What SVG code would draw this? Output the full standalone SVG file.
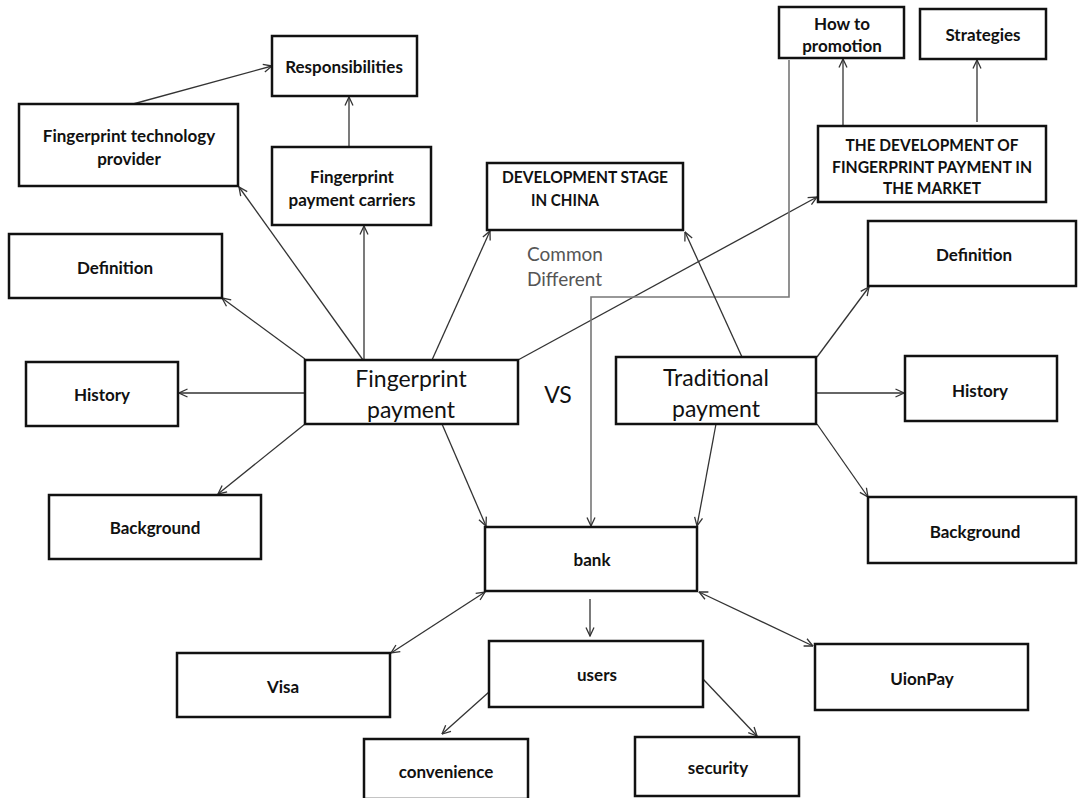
<svg xmlns="http://www.w3.org/2000/svg" width="1078" height="798" viewBox="0 0 1078 798">
<style>
.box{fill:#fff;stroke:#111;stroke-width:2.5}
.lbl{font-family:Lato,"Liberation Sans",sans-serif;font-weight:bold;font-size:17px;fill:#111;text-anchor:middle;dominant-baseline:central}
.big{font-family:Lato,"Liberation Sans",sans-serif;font-size:23px;fill:#111;text-anchor:middle;dominant-baseline:central}
.note{font-family:Lato,"Liberation Sans",sans-serif;font-size:19px;fill:#555;dominant-baseline:central}
.c{fill:none;stroke:#333;stroke-width:1.3}
.w{fill:none;stroke:#777;stroke-width:1.6}
</style>
<defs>
<marker id="ah" viewBox="0 0 10 10" refX="9.5" refY="5" markerWidth="10" markerHeight="10" markerUnits="userSpaceOnUse" orient="auto-start-reverse">
<path d="M1,1 L9.5,5 L1,9" fill="none" stroke="#333" stroke-width="1.3"/>
</marker>
</defs>
<rect width="1078" height="798" fill="#fff"/>
<g id="connectors">
<line class="c" x1="133" y1="104" x2="272" y2="66" marker-end="url(#ah)"/>
<line class="c" x1="349" y1="147" x2="349" y2="97" marker-end="url(#ah)"/>
<line class="c" x1="305" y1="359" x2="222" y2="298" marker-end="url(#ah)"/>
<line class="c" x1="363" y1="360" x2="239" y2="187" marker-end="url(#ah)"/>
<line class="c" x1="364" y1="360" x2="364" y2="226" marker-end="url(#ah)"/>
<line class="c" x1="432" y1="360" x2="490" y2="231" marker-end="url(#ah)"/>
<line class="c" x1="518" y1="360" x2="817" y2="197" marker-end="url(#ah)"/>
<line class="c" x1="305" y1="393" x2="179" y2="393" marker-end="url(#ah)"/>
<line class="c" x1="305" y1="424" x2="218" y2="494" marker-end="url(#ah)"/>
<line class="c" x1="442" y1="424" x2="486" y2="526" marker-end="url(#ah)"/>
<polyline class="w" points="789,60 789,297 591,297 591,526" marker-end="url(#ah)"/>
<line class="c" x1="742" y1="357" x2="685" y2="232" marker-end="url(#ah)"/>
<line class="c" x1="817" y1="357" x2="869" y2="287" marker-end="url(#ah)"/>
<line class="c" x1="816" y1="393" x2="904" y2="393" marker-end="url(#ah)"/>
<line class="c" x1="817" y1="424" x2="868" y2="497" marker-end="url(#ah)"/>
<line class="c" x1="716" y1="424" x2="697" y2="526" marker-end="url(#ah)"/>
<line class="c" x1="843" y1="126" x2="843" y2="59" marker-end="url(#ah)"/>
<line class="c" x1="977" y1="122" x2="977" y2="60" marker-end="url(#ah)"/>
<line class="c" x1="391" y1="653" x2="485" y2="592" marker-start="url(#ah)" marker-end="url(#ah)"/>
<line class="c" x1="590" y1="599" x2="590" y2="636" marker-end="url(#ah)"/>
<line class="c" x1="699" y1="592" x2="813" y2="646" marker-start="url(#ah)" marker-end="url(#ah)"/>
<line class="c" x1="489" y1="692" x2="442" y2="734" marker-end="url(#ah)"/>
<line class="c" x1="703" y1="679" x2="757" y2="736" marker-end="url(#ah)"/>
</g>
<g id="responsibilities"><rect class="box" x="272" y="36" width="145" height="60"/><text class="lbl" x="344" y="66">Responsibilities</text></g>
<g id="tech-provider"><rect class="box" x="19" y="104" width="219" height="82"/><text class="lbl" x="129" y="135">Fingerprint technology</text><text class="lbl" x="129" y="158">provider</text></g>
<g id="carriers"><rect class="box" x="272" y="147" width="159" height="78"/><text class="lbl" x="352" y="176">Fingerprint</text><text class="lbl" x="352" y="199">payment carriers</text></g>
<g id="dev-stage"><rect class="box" x="487" y="163" width="196" height="67"/><text class="lbl" x="502" y="176" style="text-anchor:start" textLength="166" lengthAdjust="spacingAndGlyphs">DEVELOPMENT STAGE</text><text class="lbl" x="531" y="199" style="text-anchor:start" textLength="68" lengthAdjust="spacingAndGlyphs">IN CHINA</text></g>
<g id="how-to"><rect class="box" x="779" y="7" width="125" height="51"/><text class="lbl" x="842" y="23">How to</text><text class="lbl" x="842" y="45">promotion</text></g>
<g id="strategies"><rect class="box" x="920" y="9" width="126" height="50"/><text class="lbl" x="983" y="34">Strategies</text></g>
<g id="dev-market"><rect class="box" x="818" y="126" width="228" height="76"/><text class="lbl" x="932" y="144" textLength="173" lengthAdjust="spacingAndGlyphs">THE DEVELOPMENT OF</text><text class="lbl" x="932" y="166" textLength="200" lengthAdjust="spacingAndGlyphs">FINGERPRINT PAYMENT IN</text><text class="lbl" x="932" y="187" textLength="98" lengthAdjust="spacingAndGlyphs">THE MARKET</text></g>
<g id="definition-left"><rect class="box" x="9" y="234" width="213" height="64"/><text class="lbl" x="115" y="267">Definition</text></g>
<g id="history-left"><rect class="box" x="26" y="362" width="152" height="64"/><text class="lbl" x="102" y="394">History</text></g>
<g id="background-left"><rect class="box" x="49" y="495" width="212" height="64"/><text class="lbl" x="155" y="527">Background</text></g>
<g id="fingerprint-payment"><rect class="box" x="305" y="360" width="213" height="64"/><text class="big" x="411" y="378">Fingerprint</text><text class="big" x="411" y="409">payment</text></g>
<g id="vs"><text class="big" x="558" y="394">VS</text></g>
<g id="common-different"><text class="note" x="527" y="253">Common</text><text class="note" x="527" y="278">Different</text></g>
<g id="traditional-payment"><rect class="box" x="616" y="357" width="200" height="67"/><text class="big" x="716" y="377">Traditional</text><text class="big" x="716" y="408">payment</text></g>
<g id="definition-right"><rect class="box" x="868" y="221" width="208" height="65"/><text class="lbl" x="974" y="254">Definition</text></g>
<g id="history-right"><rect class="box" x="905" y="356" width="152" height="65"/><text class="lbl" x="980" y="390">History</text></g>
<g id="background-right"><rect class="box" x="868" y="497" width="208" height="66"/><text class="lbl" x="975" y="531">Background</text></g>
<g id="bank"><rect class="box" x="485" y="527" width="212" height="64"/><text class="lbl" x="592" y="559">bank</text></g>
<g id="visa"><rect class="box" x="177" y="653" width="213" height="64"/><text class="lbl" x="283" y="686">Visa</text></g>
<g id="users"><rect class="box" x="489" y="641" width="214" height="66"/><text class="lbl" x="597" y="674">users</text></g>
<g id="uionpay"><rect class="box" x="815" y="644" width="213" height="66"/><text class="lbl" x="922" y="678">UionPay</text></g>
<g id="convenience"><rect class="box" x="364" y="739" width="164" height="60"/><text class="lbl" x="446" y="771">convenience</text></g>
<g id="security"><rect class="box" x="635" y="737" width="164" height="59"/><text class="lbl" x="718" y="767">security</text></g>
</svg>
